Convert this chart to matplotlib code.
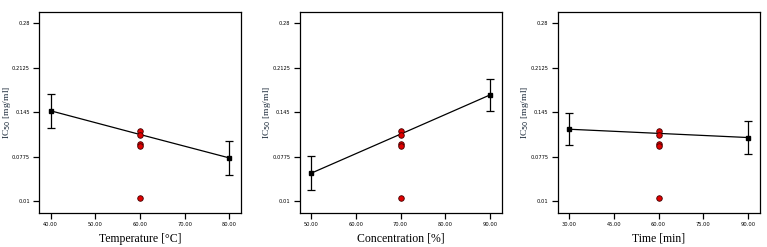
import matplotlib
matplotlib.use("Agg")
import matplotlib.pyplot as plt

# Panel data
temp_x = [40, 60, 80]
temp_y = [0.147, 0.111, 0.0754]
temp_err = [0.0255, 0.0, 0.0256]
temp_ticks = [40, 50, 60, 70, 80]

conc_x = [50, 70, 90]
conc_y = [0.0522, 0.1115, 0.171]
conc_err = [0.0258, 0.0, 0.0245]
conc_ticks = [50, 60, 70, 80, 90]

time_x = [30, 60, 90]
time_y = [0.119, 0.1127, 0.1064]
time_err = [0.0245, 0.0, 0.0250]
time_ticks = [30, 45, 60, 75, 90]

# center-point replicates (design points), shown in red
center_y = [0.116, 0.110, 0.097, 0.093, 0.014]

y_ticks = [0.01, 0.0775, 0.145, 0.2125, 0.28]
y_ticklabels = ["0.01", "0.0775", "0.145", "0.2125", "0.28"]

panels = [
    (temp_x, temp_y, temp_err, temp_ticks, "Temperature [°C]"),
    (conc_x, conc_y, conc_err, conc_ticks, "Concentration [%]"),
    (time_x, time_y, time_err, time_ticks, "Time [min]"),
]

W, H = 767, 247
fig = plt.figure(figsize=(W / 100, H / 100), dpi=100)
lefts = [39, 299.5, 557.5]
ax_w = 202
ax_top = 12
ax_bot = 213

for left, (xs, ys, errs, xt, xlabel) in zip(lefts, panels):
    ax = fig.add_axes([left / W, 1 - ax_bot / H, ax_w / W, (ax_bot - ax_top) / H])
    span = xs[-1] - xs[0]
    ax.set_xlim(xs[0] - 0.065 * span, xs[-1] + 0.065 * span)
    ax.set_ylim(-0.0082, 0.297)
    # fitted line
    ax.plot(xs, ys, color="black", lw=0.9, zorder=2)
    # end points with error bars
    ex = [xs[0], xs[-1]]
    ey = [ys[0], ys[-1]]
    ee = [errs[0], errs[-1]]
    ax.errorbar(ex, ey, yerr=ee, fmt="s", color="black", ms=3.2,
                capsize=3.2, elinewidth=0.9, capthick=0.9, zorder=3)
    # red design points at center
    ax.scatter([xs[1]] * len(center_y), center_y, s=16, facecolor="#e00000",
               edgecolor="#400000", linewidths=0.6, zorder=4)
    ax.set_xticks(xt)
    ax.set_xticklabels([f"{v:.2f}" for v in xt])
    ax.set_yticks(y_ticks)
    ax.set_yticklabels(y_ticklabels)
    ax.tick_params(axis="both", direction="out", length=4, width=0.9,
                   labelsize=3.7, pad=2.5, colors="black")
    for sp in ax.spines.values():
        sp.set_linewidth(0.9)
    ax.set_xlabel(xlabel, family="Liberation Serif", fontsize=8.5, labelpad=4)
    ax.set_ylabel("IC$_{50}$ [mg/ml]", family="Liberation Serif", fontsize=6.8,
                  color="#1c2a3a")
    ax.yaxis.set_label_coords(-0.13, 0.5)

fig.savefig("out.png", dpi=100)
